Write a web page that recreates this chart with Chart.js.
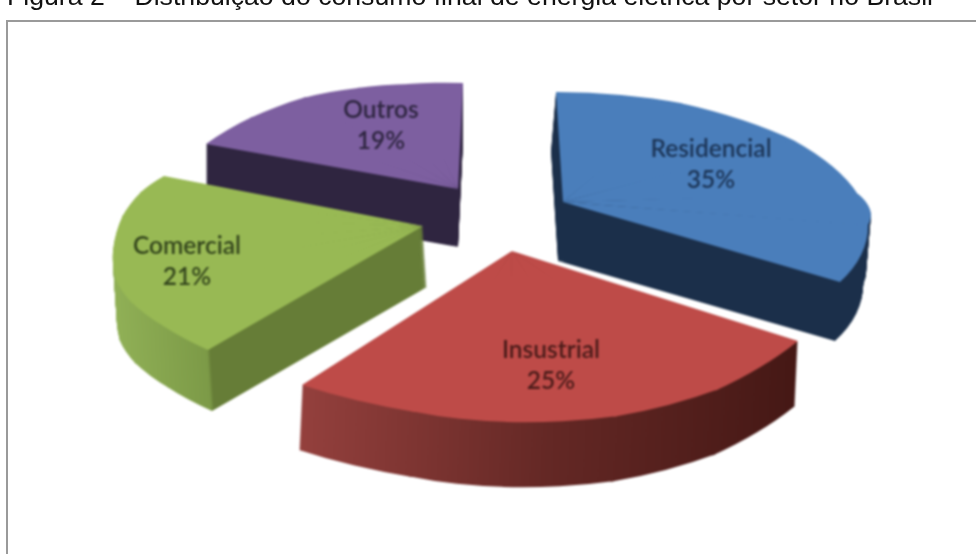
<!DOCTYPE html>
<html>
<head>
<meta charset="utf-8">
<title>Consumo de energia elétrica por setor</title>
<script src="https://cdn.jsdelivr.net/npm/chart.js@4"></script>
<style>
  html, body { margin: 0; padding: 0; background: #fff; overflow: hidden; }
  body { width: 976px; height: 554px; position: relative; }
  #title { position: absolute; left: 7px; top: -19px; font: 26.66px "Liberation Sans", Arial, sans-serif; color: #111; white-space: nowrap; filter: blur(0.5px); }
  #frame { position: absolute; left: 6px; top: 20px; right: 0; bottom: 0; border-left: 2px solid #9a9a9a; border-top: 2px solid #9a9a9a; }
  canvas { position: absolute; left: 0; top: 0; filter: blur(0.8px); }
</style>
</head>
<body>
<div id="title">Figura 2 – Distribuição do consumo final de energia elétrica por setor no Brasil</div>
<div id="frame"></div>
<canvas id="pie" width="976" height="554"></canvas>
<script>
const labels = ['Residencial', 'Insustrial', 'Comercial', 'Outros'];
const values = [35, 25, 21, 19];
const topColors = ['#4a7ebb', '#be4b48', '#98b954', '#7d5fa0'];

// where each exploded slice lands on the page: its centre and points along its rim,
// the slice is bent through them piece by piece to get the perspective of the picture
const sliceApex = [[563, 202], [512, 251], [423, 226], [458, 189]];
const sliceRim = [
    [[556, 92], [680, 103], [793, 140], [857, 193], [868, 225], [840, 282]],
    [[798, 341], [719, 389], [618, 416], [510, 422], [415, 412], [302, 385]],
    [[208, 350], [165, 327], [132, 303], [116, 280], [113, 250], [122, 217], [140, 193], [164, 176]],
    [[206, 144], [250, 118], [303, 98], [357, 88], [407, 84], [463, 83]]
];
const wallOffset = [[-5, 59], [-3, 65], [4, 61], [0, 58]];
const wallStops = [
    [[0, '#1b2f4a'], [1, '#1b2f4a']],
    [[0, '#94403d'], [0.5, '#642825'], [1, '#451815']],
    [[0, '#90b056'], [0.3, '#7c9a47'], [0.31, '#667d37'], [1, '#667d37']],
    [[0, '#2f2540'], [1, '#2f2540']]
];
const wallRange = [[560, 870], [302, 798], [113, 426], [206, 463]];
const labelPos = [[711, 149], [551, 350], [187, 246], [381, 110]];
const textColors = ['#1c3557', '#4a1b19', '#33451c', '#2e2540'];
const drawOrder = [3, 0, 2, 1];

// affine map from the chart's pie to the page for one piece of a slice
function pieceTransform(arc, a0, a1, apex, p0, p1) {
    const R = arc.outerRadius;
    const v1 = [R * Math.cos(a0), R * Math.sin(a0)];
    const v2 = [R * Math.cos(a1), R * Math.sin(a1)];
    const w1 = [p0[0] - apex[0], p0[1] - apex[1]];
    const w2 = [p1[0] - apex[0], p1[1] - apex[1]];
    const det = v1[0] * v2[1] - v2[0] * v1[1];
    const a = (w1[0] * v2[1] - w2[0] * v1[1]) / det;
    const c = (w2[0] * v1[0] - w1[0] * v2[0]) / det;
    const b = (w1[1] * v2[1] - w2[1] * v1[1]) / det;
    const d = (w2[1] * v1[0] - w1[1] * v2[0]) / det;
    return { a, b, c, d, e: apex[0] - a * arc.x - c * arc.y, f: apex[1] - b * arc.x - d * arc.y };
}

function slicePieces(ctx, arc, i) {
    const rim = sliceRim[i];
    const n = rim.length - 1;
    const step = (arc.endAngle - arc.startAngle) / n;
    const pieces = [];
    for (let j = 0; j < n; j++) {
        const a0 = arc.startAngle + j * step;
        const a1 = a0 + step;
        const m = pieceTransform(arc, a0, a1, sliceApex[i], rim[j], rim[j + 1]);
        // gradient that runs along page x once the transform is applied
        const len = m.a * m.a + m.c * m.c;
        const [x0, x1] = wallRange[i];
        const grad = ctx.createLinearGradient(
            m.a * (x0 - m.e) / len, m.c * (x0 - m.e) / len,
            m.a * (x1 - m.e) / len, m.c * (x1 - m.e) / len);
        wallStops[i].forEach(s => grad.addColorStop(s[0], s[1]));

        const top = Object.create(arc);
        top.startAngle = a0;
        top.endAngle = j < n - 1 ? a1 + 0.012 : a1;
        top.circumference = top.endAngle - a0;
        top.options = { ...arc.options };
        const wall = Object.create(top);
        wall.options = { ...arc.options, backgroundColor: grad };
        pieces.push({ m, top, wall });
    }
    return pieces;
}

const slicePlugin = {
    id: 'slices3d',
    beforeDatasetDraw() { return false; },
    afterDraw(chart) {
        const ctx = chart.ctx;
        const arcs = chart.getDatasetMeta(0).data;
        drawOrder.forEach(i => {
            const pieces = slicePieces(ctx, arcs[i], i);
            const [dx, dy] = wallOffset[i];
            ctx.save();
            for (let s = dy; s > 0; s--) {
                pieces.forEach(p => {
                    ctx.setTransform(p.m.a, p.m.b, p.m.c, p.m.d, p.m.e + dx * s / dy, p.m.f + s);
                    p.wall.draw(ctx);
                });
            }
            pieces.forEach(p => {
                ctx.setTransform(p.m.a, p.m.b, p.m.c, p.m.d, p.m.e, p.m.f);
                p.top.draw(ctx);
            });
            ctx.restore();
        });
        ctx.save();
        ctx.font = '600 24.5px Lato, "Open Sans", sans-serif';
        ctx.textAlign = 'center';
        ctx.textBaseline = 'middle';
        labels.forEach((name, i) => {
            ctx.fillStyle = textColors[i];
            ctx.fillText(name, labelPos[i][0], labelPos[i][1]);
            ctx.fillText(values[i] + '%', labelPos[i][0], labelPos[i][1] + 31);
        });
        ctx.restore();
    }
};

new Chart(document.getElementById('pie').getContext('2d'), {
    type: 'pie',
    data: {
        labels: labels,
        datasets: [{ data: values, backgroundColor: topColors, borderWidth: 0 }]
    },
    options: {
        responsive: false,
        animation: false,
        plugins: { legend: { display: false }, tooltip: { enabled: false } }
    },
    plugins: [slicePlugin]
});
</script>
</body>
</html>
